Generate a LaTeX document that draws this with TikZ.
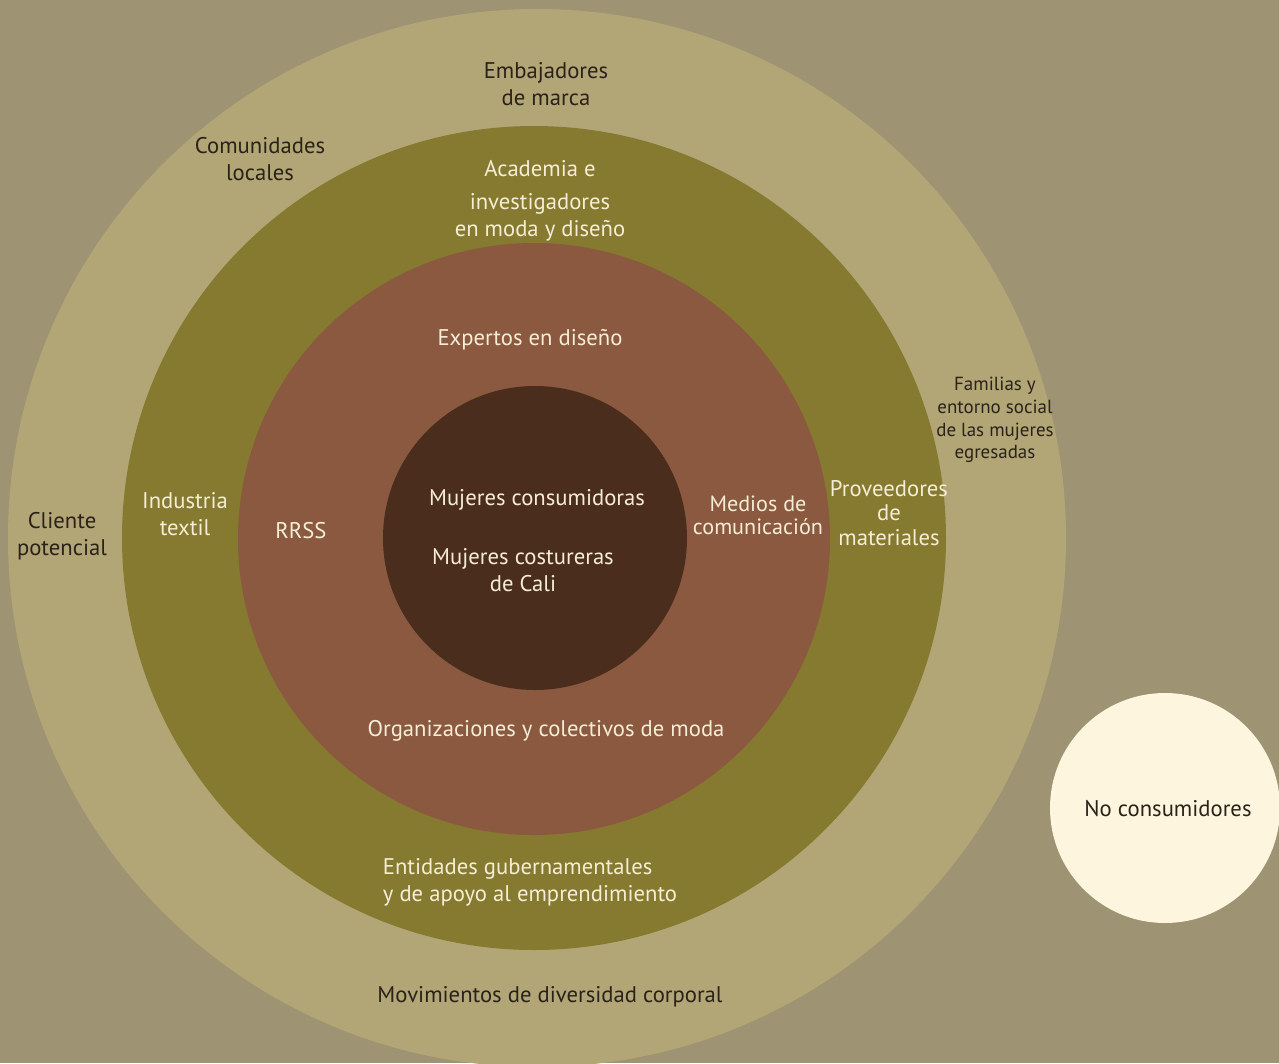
\documentclass[tikz,border=0pt]{standalone}
\usepackage{fontspec}
\setmainfont{PT Sans}
\definecolor{bgc}{HTML}{9E9373}
\definecolor{ringA}{HTML}{B2A677}
\definecolor{ringB}{HTML}{857A2F}
\definecolor{ringC}{HTML}{8A5940}
\definecolor{ringD}{HTML}{4A2D1D}
\definecolor{nocons}{HTML}{FDF5DD}
\definecolor{darktxt}{HTML}{2A2218}
\definecolor{lighttxt}{HTML}{F6EDD6}
\tikzset{
  ring/.style={circle, inner sep=0pt, draw=none},
  lt/.style={text=lighttxt, align=center, font=\fontsize{12.9}{15.5}\selectfont, inner sep=0pt},
  dk/.style={text=darktxt, align=center, font=\fontsize{12.9}{15.5}\selectfont, inner sep=0pt},
}
\begin{document}
\begin{tikzpicture}[x=0.02cm,y=-0.02cm]
\fill[bgc] (0,0) rectangle (1279,1063);
\useasboundingbox (0,0) rectangle (1279,1063);
\node[ring, fill=ringA, minimum size=1058*0.02cm] (outer) at (537,538) {};
\node[ring, fill=ringB, minimum size=824*0.02cm] (olive) at (534,538) {};
\node[ring, fill=ringC, minimum size=592*0.02cm] (brown) at (534,539) {};
\node[ring, fill=ringD, minimum size=304*0.02cm] (core) at (535,538) {};
\node[ring, fill=nocons, minimum size=230*0.02cm] (nc) at (1165,808) {};

\node[dk] (emb) at (546,84) {Embajadores\\de marca};
\node[dk] (com) at (260,159) {Comunidades\\locales};
\node[lt] (acad1) at (540,169) {Academia e};
\node[lt] (acad2) at (540,217) {investigadores\\en moda y diseño};
\node[lt] (exp) at (530,340) {Expertos en diseño};
\node[dk, font=\fontsize{10.8}{13}\selectfont] (fam) at (995,420) {Familias y\\entorno social\\de las mujeres\\egresadas};
\node[lt] (ind) at (185,514) {Industria\\textil};
\node[dk] (cli) at (62,536) {Cliente\\potencial};
\node[lt] (rrss) at (301,531) {RRSS};
\node[lt] (mcons) at (537,500) {Mujeres consumidoras};
\node[lt] (mcost) at (523,570) {Mujeres costureras\\de Cali};
\node[lt, font=\fontsize{12.6}{13.2}\selectfont] (med) at (758,515) {Medios de\\comunicación};
\node[lt, font=\fontsize{12.9}{13.8}\selectfont] (prov) at (889,513) {Proveedores\\de\\materiales};
\node[lt] (org) at (546,731) {Organizaciones y colectivos de moda};
\node[lt, align=left] (ent) at (530,882) {Entidades gubernamentales\\y de apoyo al emprendimiento};
\node[dk] (mov) at (550,997) {Movimientos de diversidad corporal};
\node[dk] (ncl) at (1168,809) {No consumidores};
\end{tikzpicture}
\end{document}
